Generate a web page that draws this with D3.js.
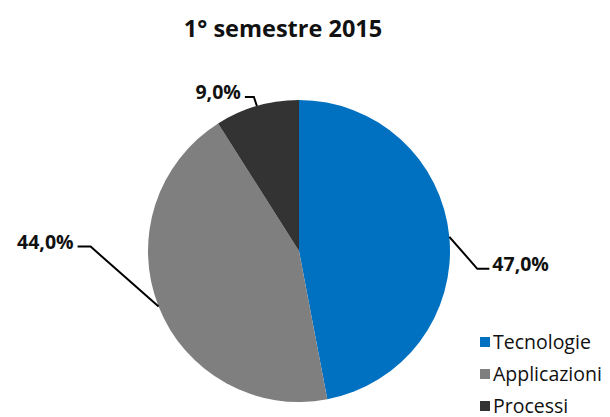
<!DOCTYPE html>
<html>
<head>
<meta charset="utf-8">
<script src="https://cdn.jsdelivr.net/npm/d3@7"></script>
<style>
  body { margin: 0; background: #fff; }
  text { font-family: "Open Sans", Lato, sans-serif; }
</style>
</head>
<body>
<div id="chart"></div>
<script>
// Data
var categories = ["Tecnologie", "Applicazioni", "Processi"];
var values = [47.0, 44.0, 9.0];
var colorList = ["#0070C0", "#7F7F7F", "#333333"];

var w = 610, h = 417;
var cx = 299, cy = 251, r = 151;

var svg = d3.select("#chart").append("svg")
  .attr("width", w)
  .attr("height", h);

svg.append("text")
  .attr("x", 283)
  .attr("y", 37)
  .attr("text-anchor", "middle")
  .attr("font-size", 23.5)
  .attr("font-weight", "bold")
  .attr("fill", "#111")
  .text("1° semestre 2015");

var color = d3.scaleOrdinal().domain(categories).range(colorList);

var pie = d3.pie().sort(null).value(d => d.value);
var arcs = pie(categories.map((c, i) => ({name: c, value: values[i]})));
var arc = d3.arc().innerRadius(0).outerRadius(r);

var g = svg.append("g").attr("transform", `translate(${cx},${cy})`);

g.selectAll("path")
  .data(arcs)
  .enter()
  .append("path")
  .attr("d", arc)
  .attr("fill", d => color(d.data.name));

// leader lines: elbow offsets per slice
var elbows = [
  {dx: 28, dy: 32, hx: 12},
  {dx: -68, dy: -60, hx: -13},
  {dx: -3, dy: -9, hx: -9}
];
var fmt = v => d3.format(".1f")(v).replace(".", ",") + "%";

arcs.forEach(function(d, i) {
  var mid = (d.startAngle + d.endAngle) / 2;
  var x0 = Math.sin(mid) * r, y0 = -Math.cos(mid) * r;
  var x1 = x0 + elbows[i].dx, y1 = y0 + elbows[i].dy;
  var x2 = x1 + elbows[i].hx;
  g.append("polyline")
    .attr("points", [[x0, y0], [x1, y1], [x2, y1]].map(p => p.join(",")).join(" "))
    .attr("fill", "none")
    .attr("stroke", "#000")
    .attr("stroke-width", 2);
  var right = elbows[i].hx > 0;
  g.append("text")
    .attr("x", x2 + (right ? 3 : -4))
    .attr("y", y1 + 2)
    .attr("text-anchor", right ? "start" : "end")
    .attr("font-size", 19.5)
    .attr("font-weight", "bold")
    .attr("fill", "#111")
    .text(fmt(d.data.value));
});

// Legend
var legend = svg.selectAll("g.legend")
  .data(categories)
  .enter()
  .append("g")
  .attr("class", "legend")
  .attr("transform", (d, i) => `translate(480, ${342 + i * 32})`);

legend.append("rect")
  .attr("x", 0)
  .attr("y", -5)
  .attr("width", 10)
  .attr("height", 10)
  .attr("fill", d => color(d));

legend.append("text")
  .attr("x", 13)
  .attr("y", 6.5)
  .attr("font-size", 19.5)
  .attr("fill", "#111")
  .text(d => d);
</script>
</body>
</html>
